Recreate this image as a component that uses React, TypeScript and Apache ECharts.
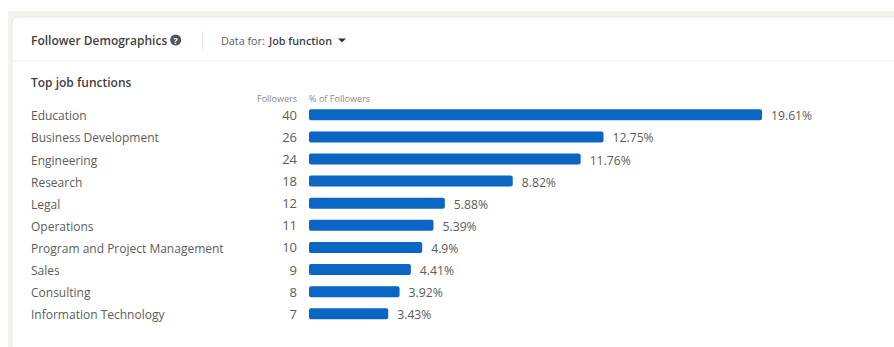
import React, { useEffect, useRef } from "react";
import * as echarts from "echarts";

const jobFunctions = [
  "Education",
  "Business Development",
  "Engineering",
  "Research",
  "Legal",
  "Operations",
  "Program and Project Management",
  "Sales",
  "Consulting",
  "Information Technology",
];
const followerCounts = [40, 26, 24, 18, 12, 11, 10, 9, 8, 7];
const followerShares = [19.61, 12.75, 11.76, 8.82, 5.88, 5.39, 4.9, 4.41, 3.92, 3.43];

const FONT = '"Open Sans", "Noto Sans", sans-serif';
const BODY = "#5c5c5c";
const DARK = "#3f3f3f";
const FAINT = "#8a8a8a";

const label = (x: number, y: number, text: string, fontSize: number, fill: string, extra: any = {}) => ({
  type: "text",
  x,
  y,
  z: 5,
  style: { text, fontSize, fill, fontFamily: FONT, textVerticalAlign: "middle", ...extra },
});

export default function App() {
  const ref = useRef<HTMLDivElement>(null);

  useEffect(() => {
    document.body.style.margin = "0";
    const chart = echarts.init(ref.current!, null, { renderer: "svg" });
    chart.setOption({
      animation: false,
      backgroundColor: "#ffffff",
      grid: { left: 309, top: 103.7, width: 462, height: 221.2, containLabel: false },
      xAxis: { type: "value", min: 0, max: 20, show: false },
      yAxis: [
        {
          type: "category",
          inverse: true,
          data: jobFunctions,
          axisLine: { show: false },
          axisTick: { show: false },
          axisLabel: {
            align: "left",
            verticalAlign: "top",
            lineHeight: 2,
            margin: 278,
            color: BODY,
            fontSize: 12,
            fontFamily: FONT,
          },
        },
        {
          type: "category",
          position: "left",
          inverse: true,
          data: followerCounts.map(String),
          axisLine: { show: false },
          axisTick: { show: false },
          axisLabel: {
            align: "right",
            margin: 12,
            color: BODY,
            fontSize: 13,
            fontFamily: FONT,
          },
        },
      ],
      series: [
        {
          type: "bar",
          yAxisIndex: 0,
          data: followerShares,
          barWidth: 11,
          itemStyle: { color: "#0a66c2", borderRadius: 2 },
          label: {
            show: true,
            position: "right",
            verticalAlign: "top",
            lineHeight: 2,
            distance: 9,
            color: BODY,
            fontSize: 12.2,
            fontFamily: FONT,
            formatter: (p: any) => `${p.value}%`,
          },
        },
      ],
      graphic: [
        // Page band behind the card
        { type: "rect", z: -20, shape: { x: 8, y: 11, width: 886, height: 336 }, style: { fill: "#f3f2ef" } },
        {
          type: "rect",
          z: -19,
          shape: { x: 12, y: 17, width: 900, height: 360, r: 6 },
          style: { fill: "#ffffff", stroke: "#e9e8e4", lineWidth: 1 },
        },
        // Header rules
        { type: "line", z: -18, shape: { x1: 12, y1: 61, x2: 894, y2: 61 }, style: { stroke: "#f1f1f0", lineWidth: 1 } },
        { type: "line", z: -18, shape: { x1: 202.5, y1: 31, x2: 202.5, y2: 50 }, style: { stroke: "#e8e8e6", lineWidth: 1 } },
        // Header text
        label(31, 40.5, "Follower Demographics", 12, DARK, { fontWeight: 600 }),
        { type: "circle", z: 5, shape: { cx: 175.7, cy: 40, r: 5.5 }, style: { fill: "#555555" } },
        label(175.7, 40.5, "?", 9, "#ffffff", { fontWeight: 700, textAlign: "center" }),
        label(221, 40.5, "Data for:", 10.8, BODY),
        label(269, 40.5, "Job function", 10.8, DARK, { fontWeight: 600 }),
        {
          type: "polygon",
          z: 5,
          shape: { points: [[338, 38.5], [346, 38.5], [342, 42.5]] },
          style: { fill: "#333333" },
        },
        label(31, 82, "Top job functions", 12, DARK, { fontWeight: 600 }),
        // Column captions
        label(297, 98, "Followers", 9, FAINT, { textAlign: "right" }),
        label(309, 98, "% of Followers", 9.1, FAINT),
      ],
    });
    return () => chart.dispose();
  }, []);

  return <div ref={ref} style={{ width: 894, height: 347 }} />;
}
